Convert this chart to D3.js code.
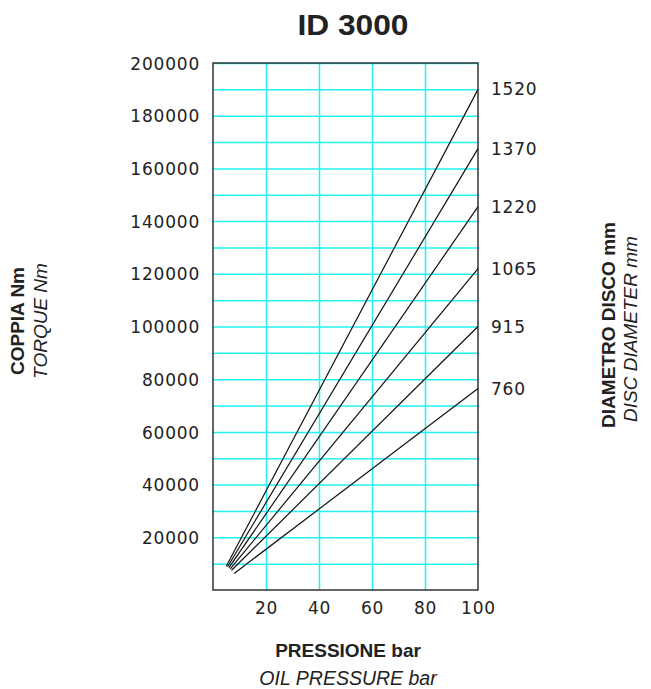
<!DOCTYPE html>
<html>
<head>
<meta charset="utf-8">
<script src="https://cdn.jsdelivr.net/npm/d3@7"></script>
<style>
  body { margin: 0; background: #fff; }
  text { fill: #222; }
</style>
</head>
<body>
<svg id="chart"></svg>
<script>
// values
const pressureTicks = [20, 40, 60, 80, 100];
const torqueTicks = [20000, 40000, 60000, 80000, 100000, 120000, 140000, 160000, 180000, 200000];
const torqueGrid = d3.range(10000, 200001, 10000);
const diameters = [1520, 1370, 1220, 1065, 915, 760];
const startPressure = [5, 5.5, 6, 6.5, 7, 8];
const startTorque = [9000, 8800, 8500, 8000, 7500, 6300];
const endPressure = [100, 100, 100, 100, 100, 100];
const endTorque = [190000, 167500, 145500, 122000, 100000, 76500];

const width = 651, height = 689;
const margin = { top: 63, right: 173, bottom: 99, left: 213 };

const x = d3.scaleLinear().domain([0, 100]).range([margin.left, width - margin.right]);
const y = d3.scaleLinear().domain([0, 200000]).range([height - margin.bottom, margin.top]);

const svg = d3.select('#chart')
  .attr('width', width)
  .attr('height', height);

const numFont = 'DejaVu Sans, sans-serif';
const labFont = 'Liberation Sans, Arial, sans-serif';

// grid
svg.append('g')
  .attr('transform', `translate(0,${y(0)})`)
  .call(d3.axisBottom(x).tickValues([20, 40, 60, 80]).tickSize(-(y(0) - y(200000))).tickFormat(''))
  .call(g => g.select('.domain').remove())
  .call(g => g.selectAll('line').attr('stroke', '#22f2f2').attr('stroke-width', 1.5));

svg.append('g')
  .attr('transform', `translate(${x(0)},0)`)
  .call(d3.axisLeft(y).tickValues(torqueGrid).tickSize(-(x(100) - x(0))).tickFormat(''))
  .call(g => g.select('.domain').remove())
  .call(g => g.selectAll('line').attr('stroke', '#22f2f2').attr('stroke-width', 1.5));

// frame
svg.append('rect')
  .attr('x', x(0)).attr('y', y(200000))
  .attr('width', x(100) - x(0)).attr('height', y(0) - y(200000))
  .attr('fill', 'none').attr('stroke', '#333').attr('stroke-width', 1.5);

// axes labels
svg.append('g')
  .attr('transform', `translate(${x(0)},0)`)
  .call(d3.axisLeft(y).tickValues(torqueTicks).tickSize(0).tickPadding(13).tickFormat(d3.format('d')))
  .call(g => g.select('.domain').remove())
  .call(g => g.selectAll('text')
    .attr('font-family', numFont).attr('font-size', 17).attr('letter-spacing', 0.8)
    .attr('fill', '#222').attr('dy', '0.36em'));

svg.append('g')
  .attr('transform', `translate(0,${y(0)})`)
  .call(d3.axisBottom(x).tickValues(pressureTicks).tickSize(0).tickPadding(12))
  .call(g => g.select('.domain').remove())
  .call(g => g.selectAll('text')
    .attr('font-family', numFont).attr('font-size', 17).attr('letter-spacing', 0.8)
    .attr('fill', '#222'));

// curves
const series = diameters.map((d, i) => ({
  diameter: d,
  points: [[startPressure[i], startTorque[i]], [endPressure[i], endTorque[i]]]
}));

const line = d3.line().x(d => x(d[0])).y(d => y(d[1]));

svg.append('g')
  .selectAll('path')
  .data(series)
  .join('path')
  .attr('d', d => line(d.points))
  .attr('fill', 'none')
  .attr('stroke', '#111')
  .attr('stroke-width', 1.2);

svg.append('g')
  .selectAll('text')
  .data(series)
  .join('text')
  .attr('x', x(100) + 13)
  .attr('y', d => y(d.points[1][1]))
  .attr('dy', '0.36em')
  .attr('font-family', numFont).attr('font-size', 17).attr('letter-spacing', 0.8)
  .text(d => d.diameter);

// titles
svg.append('text')
  .attr('x', 353).attr('y', 35)
  .attr('text-anchor', 'middle')
  .attr('font-family', labFont).attr('font-size', 30).attr('font-weight', 'bold')
  .attr('textLength', 111).attr('lengthAdjust', 'spacingAndGlyphs')
  .text('ID 3000');

svg.append('text')
  .attr('x', 348).attr('y', 657)
  .attr('text-anchor', 'middle')
  .attr('font-family', labFont).attr('font-size', 19).attr('font-weight', 'bold')
  .text('PRESSIONE bar');
svg.append('text')
  .attr('x', 348).attr('y', 685)
  .attr('text-anchor', 'middle')
  .attr('font-family', labFont).attr('font-size', 19.5).attr('font-style', 'italic')
  .text('OIL PRESSURE bar');

svg.append('text')
  .attr('transform', 'translate(24,321) rotate(-90)')
  .attr('text-anchor', 'middle')
  .attr('font-family', labFont).attr('font-size', 19).attr('font-weight', 'bold')
  .text('COPPIA Nm');
svg.append('text')
  .attr('transform', 'translate(47,321) rotate(-90)')
  .attr('text-anchor', 'middle')
  .attr('font-family', labFont).attr('font-size', 19).attr('font-style', 'italic')
  .text('TORQUE Nm');

svg.append('text')
  .attr('transform', 'translate(615,325) rotate(-90)')
  .attr('text-anchor', 'middle')
  .attr('font-family', labFont).attr('font-size', 19).attr('font-weight', 'bold')
  .text('DIAMETRO DISCO mm');
svg.append('text')
  .attr('transform', 'translate(637,329) rotate(-90)')
  .attr('text-anchor', 'middle')
  .attr('font-family', labFont).attr('font-size', 19).attr('font-style', 'italic')
  .text('DISC DIAMETER mm');
</script>
</body>
</html>
